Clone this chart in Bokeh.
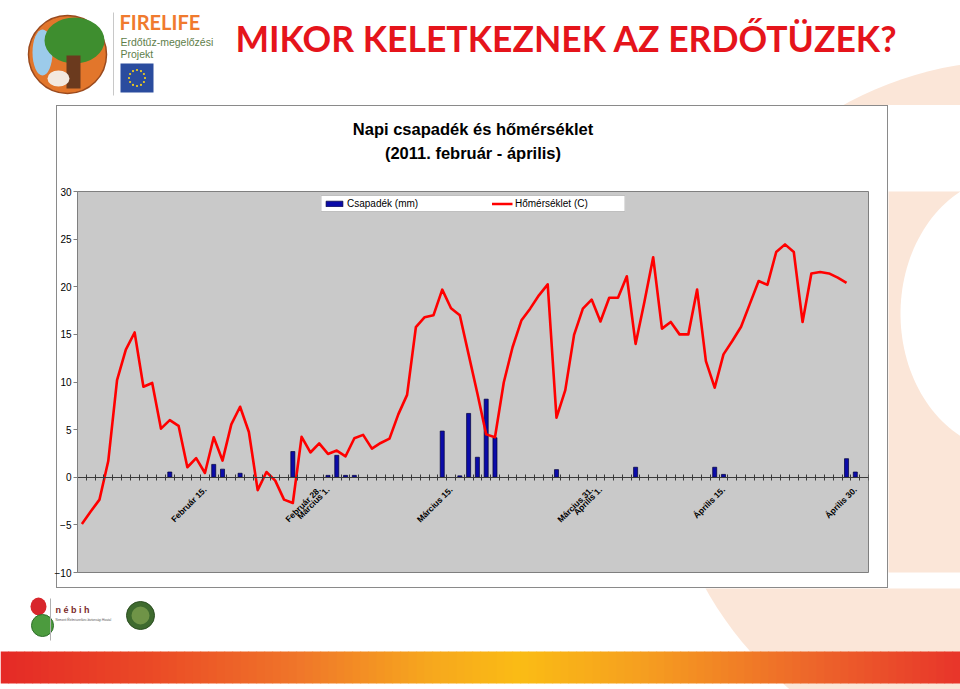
import numpy as np
from math import pi
from bokeh.plotting import figure
from bokeh.models import (Range1d, FixedTicker, LinearAxis, Legend, LegendItem, Spacer,
                          ColumnDataSource)
from bokeh.layouts import column, row
from bokeh.embed import file_html
from bokeh.resources import INLINE
from bokeh.core.properties import value

# ---------------- data (day index 0 = 2011-02-01) ----------------
day_index = list(range(90))

temperature = [
    -4.9, -3.6, -2.35, 1.7, 10.2, 13.4, 15.2, 9.5, 9.9, 5.1,
    6.0, 5.4, 1.05, 2.0, 0.45, 4.2, 1.75, 5.55, 7.4, 4.75,
    -1.35, 0.55, -0.35, -2.35, -2.7, 4.25, 2.6, 3.55, 2.45, 2.8,
    2.2, 4.1, 4.45, 3.0, 3.6, 4.05, 6.6, 8.65, 15.75, 16.8,
    17.0, 19.7, 17.75, 17.0, 12.9, 8.8, 4.5, 4.2, 9.95, 13.65,
    16.45, 17.7, 19.1, 20.25, 6.25, 9.15, 14.95, 17.7, 18.65, 16.35,
    18.85, 18.85, 21.1, 14.0, 18.4, 23.1, 15.6, 16.3, 15.0, 15.0,
    19.7, 12.2, 9.4, 12.9, 14.3, 15.8, 18.2, 20.6, 20.2, 23.65,
    24.45, 23.65, 16.3, 21.4, 21.55, 21.4, 20.95, 20.4,
]

precipitation = [0.0] * 90
rain_days = [10, 15, 16, 18, 24, 28, 29, 30, 31, 41, 43, 44, 45, 46, 47, 54, 63, 72, 73, 87, 88]
rain_mm = [0.55, 1.35, 0.85, 0.42, 2.7, 0.2, 2.3, 0.2, 0.2, 4.85, 0.15, 6.7, 2.1, 8.2, 4.15,
           0.8, 1.05, 1.05, 0.3, 1.95, 0.55]
for d, v in zip(rain_days, rain_mm):
    precipitation[d] = v

tick_days = [14, 27, 28, 42, 58, 59, 73, 88]
tick_labels = ["Február 15.", "Február 28.", "Március 1.", "Március 15.",
               "Március 31.", "Április 1.", "Április 15.", "Április 30."]
y_ticks = [-10, -5, 0, 5, 10, 15, 20, 25, 30]

slide_title = "MIKOR KELETKEZNEK AZ ERDŐTÜZEK?"
chart_title_1 = "Napi csapadék és hőmérséklet"
chart_title_2 = "(2011. február - április)"
series_names = ["Csapadék (mm)", "Hőmérséklet (C)"]

FONT = "Liberation Sans"


def ring(cx, cy, rx, ry, n=160):
    t = np.linspace(0, 2 * pi, n)
    return cx + rx * np.cos(t), cy + ry * np.sin(t)


# ---------------- decoration helpers (page-pixel coordinates) ----------------
def decor_fig(w, h, x0, x1, y0, y1):
    f = figure(width=w, height=h, x_range=Range1d(x0, x1), y_range=Range1d(y1, y0),
               output_backend="svg", toolbar_location=None, min_border=0,
               x_axis_type=None, y_axis_type=None, outline_line_color=None,
               background_fill_color="white", border_fill_color="white")
    for g in f.grid:
        g.visible = False
    px, py = ring(1015, 415, 355, 355)
    f.patch(px, py, fill_color="#FBE6D8", line_color=None)
    wx, wy = ring(1012, 260, 112, 175)
    f.patch(wx, wy, fill_color="#FFFFFF", line_color=None)
    return f


# ---------------- header ----------------
header = decor_fig(960, 105, 0, 960, 0, 105)
header.circle(x=[67], y=[54], radius=[39], fill_color="#E2762B", line_color="#9A4A1E", line_width=1.5)
header.ellipse(x=[42], y=[52], width=[20], height=[46], fill_color="#9CCBEA", line_color=None)
header.ellipse(x=[74], y=[40], width=[60], height=[46], fill_color="#3E8E2F", line_color=None)
header.quad(left=[66], right=[80], top=[55], bottom=[88], fill_color="#6B3A1E", line_color=None)
header.ellipse(x=[58], y=[78], width=[22], height=[16], fill_color="#F3E9E0", line_color=None)
header.segment(x0=[113], y0=[12], x1=[113], y1=[95], line_color="#C8C8C8", line_width=1)
header.text(x=[119], y=[21], text=["FIRELIFE"], text_font=value("Lato"), text_font_style="bold",
            text_font_size="20px", text_color="#F07A2E", text_baseline="middle")
header.text(x=[120], y=[41], text=["Erdőtűz-megelőzési"], text_font=value(FONT),
            text_font_size="10.5px", text_color="#5E7E4A", text_baseline="middle")
header.text(x=[120], y=[53], text=["Projekt"], text_font=value(FONT),
            text_font_size="10.5px", text_color="#5E7E4A", text_baseline="middle")
header.quad(left=[120], right=[153], top=[63], bottom=[92], fill_color="#2A4C9E", line_color=None)
ang = np.linspace(0, 2 * pi, 13)[:-1]
header.scatter(x=136.5 + 8 * np.cos(ang), y=77.5 + 8 * np.sin(ang), size=2.2,
               fill_color="#F6D11A", line_color=None)
header.text(x=[235], y=[38], text=[slide_title], text_font=value("Lato"), text_font_style="bold",
            text_font_size="35.5px", text_color="#E5141B", text_baseline="middle")

# ---------------- chart ----------------
BOX = "#8A8A8A"
box_css = (f"linear-gradient({BOX},{BOX}) 6px 0/calc(100% - 6px) 1px no-repeat,"
           f"linear-gradient({BOX},{BOX}) 6px 100%/calc(100% - 6px) 1px no-repeat,"
           f"linear-gradient({BOX},{BOX}) 6px 0/1px 100% no-repeat,"
           f"linear-gradient({BOX},{BOX}) 100% 0/1px 100% no-repeat")

chart = figure(width=838, height=483, x_range=Range1d(-0.5, 89.5), y_range=Range1d(-10, 30),
               output_backend="svg", toolbar_location=None,
               min_border_left=27, min_border_right=20, min_border_top=86, min_border_bottom=16,
               background_fill_color="#C9C9C9", border_fill_color=None,
               outline_line_color="#7F7F7F")
chart.styles = {"background": box_css}
chart.xgrid.visible = False
chart.ygrid.visible = False

rain_src = ColumnDataSource(dict(
    x=[d for d, v in zip(day_index, precipitation) if v > 0],
    top=[v for v in precipitation if v > 0]))
bars = chart.vbar(x="x", top="top", width=0.46, source=rain_src,
                  fill_color="#0B0BA8", line_color="#00003A", line_width=0.7)
temp_line = chart.line(x=day_index[:len(temperature)], y=temperature,
                       line_color="#FF0000", line_width=2.6, line_join="round")

xa = chart.xaxis[0]
xa.ticker = FixedTicker(ticks=tick_days, minor_ticks=[i - 0.5 for i in range(91)])
xa.major_label_overrides = {d: t for d, t in zip(tick_days, tick_labels)}
xa.fixed_location = 0
xa.major_label_orientation = pi / 4
xa.major_tick_in = 0
xa.major_tick_out = 0
xa.minor_tick_in = 3
xa.minor_tick_out = 3
xa.axis_line_color = "#3A3A3A"
xa.minor_tick_line_color = "#3A3A3A"
xa.major_label_text_font = FONT
xa.major_label_text_font_style = "bold"
xa.major_label_text_font_size = "8.5px"
xa.major_label_text_color = "black"
xa.major_label_standoff = 8

ya = chart.yaxis[0]
ya.ticker = FixedTicker(ticks=y_ticks)
ya.minor_tick_line_color = None
ya.major_tick_in = 0
ya.major_tick_out = 4
ya.major_label_standoff = 2
ya.axis_line_color = "#7F7F7F"
ya.major_tick_line_color = "#7F7F7F"
ya.major_label_text_font = FONT
ya.major_label_text_font_size = "10px"
ya.major_label_text_color = "black"

# second title line: carried by an empty axis above the plot area
sub = LinearAxis(ticker=FixedTicker(ticks=[]), axis_label=chart_title_2,
                 axis_label_standoff=30, axis_label_text_font=FONT,
                 axis_label_text_font_style="bold", axis_label_text_font_size="16.5px",
                 axis_label_text_color="black", axis_line_color=None,
                 major_tick_line_color=None, minor_tick_line_color=None,
                 major_tick_out=0, major_tick_in=0, minor_tick_out=0, minor_tick_in=0,
                 major_label_text_font_size="0px")
chart.add_layout(sub, "above")

chart.title.text = chart_title_1
chart.title.align = "center"
chart.title.text_font = FONT
chart.title.text_font_style = "bold"
chart.title.text_font_size = "16.5px"
chart.title.text_color = "black"
chart.title.standoff = 6

legend = Legend(items=[LegendItem(label=series_names[0], renderers=[bars]),
                       LegendItem(label=series_names[1], renderers=[temp_line])],
                location="top_center", orientation="horizontal", margin=4, padding=2,
                spacing=37, label_width=107, glyph_width=21, glyph_height=7,
                label_height=10, label_standoff=3, label_text_font=FONT,
                label_text_font_size="10px", label_text_color="black",
                border_line_color="#808080",
                background_fill_color="white", background_fill_alpha=1.0)
chart.add_layout(legend)

right = decor_fig(72, 483, 888, 960, 105, 588)

# ---------------- footer ----------------
footer = decor_fig(960, 101, 0, 960, 588, 689)
footer.ellipse(x=[38], y=[606], width=[16], height=[18], fill_color="#D8262C", line_color=None)
footer.circle(x=[42], y=[625], radius=[11], fill_color="#4C9B3E", line_color="#2E6E2A")
footer.segment(x0=[50], y0=[598], x1=[50], y1=[640], line_color="#B0B0B0")
footer.text(x=[55], y=[609], text=["n é b i h"], text_font=value(FONT), text_font_style="bold",
            text_font_size="9px", text_color="#7A2A2A", text_baseline="middle")
footer.text(x=[55], y=[619], text=["Nemzeti Élelmiszerlánc-biztonsági Hivatal"], text_font=value(FONT),
            text_font_size="3px", text_color="#555555", text_baseline="middle")
footer.circle(x=[140], y=[615], radius=[14], fill_color="#3E6A2E", line_color="#2C4E22")
footer.circle(x=[140], y=[615], radius=[9], fill_color="#6F9447", line_color=None)

stops_x = [0, 150, 300, 430, 520, 640, 800, 960]
stops_c = ["#E52A27", "#EB4A26", "#F0772A", "#F7A81E", "#FBBC15", "#F6A020", "#EE6A2A", "#E8352A"]
rgb = np.array([[int(c[i:i + 2], 16) for i in (1, 3, 5)] for c in stops_c])
bx = np.arange(0, 960, 8)
cols = ["#%02x%02x%02x" % tuple(int(np.interp(x + 4, stops_x, rgb[:, k])) for k in range(3)) for x in bx]
footer.quad(left=bx, right=bx + 8.6, top=651, bottom=683, fill_color=cols, line_color=None)

layout = column(header, row(Spacer(width=50, height=483), chart, right), footer)

with open("out.html", "w") as fh:
    fh.write(file_html(layout, INLINE))
